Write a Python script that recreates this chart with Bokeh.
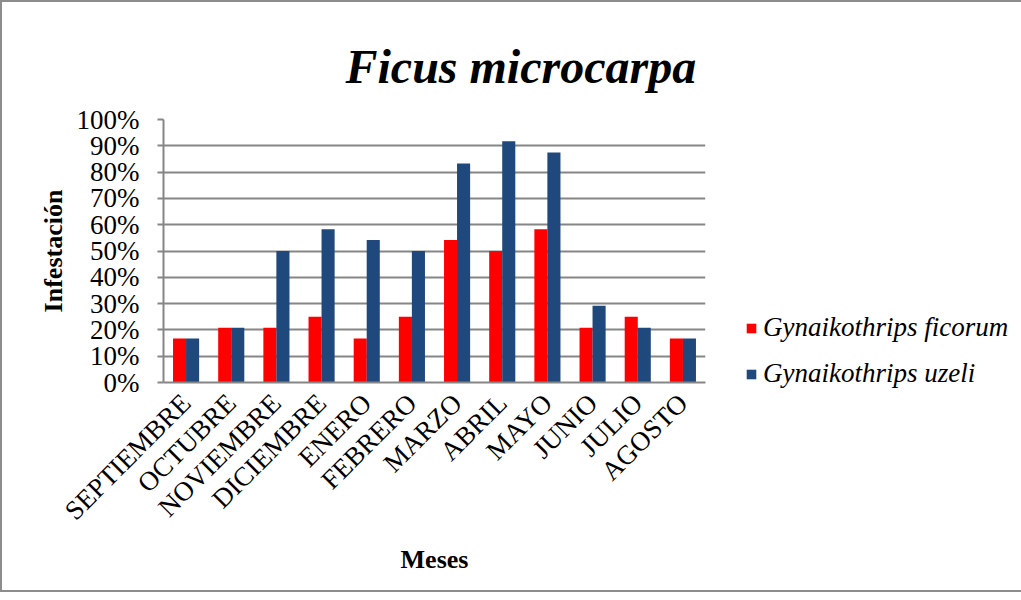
import math
from bokeh.plotting import figure
from bokeh.models import ColumnDataSource, Legend, LegendItem, NumeralTickFormatter, FixedTicker
from bokeh.transform import dodge
from bokeh.embed import file_html
from bokeh.resources import INLINE

meses = ["SEPTIEMBRE", "OCTUBRE", "NOVIEMBRE", "DICIEMBRE", "ENERO", "FEBRERO",
         "MARZO", "ABRIL", "MAYO", "JUNIO", "JULIO", "AGOSTO"]
ficorum = [0.167, 0.208, 0.208, 0.25, 0.167, 0.25, 0.542, 0.50, 0.583, 0.208, 0.25, 0.167]
uzeli = [0.167, 0.208, 0.50, 0.583, 0.542, 0.50, 0.833, 0.917, 0.875, 0.292, 0.208, 0.167]
y_ticks = [0, 0.1, 0.2, 0.3, 0.4, 0.5, 0.6, 0.7, 0.8, 0.9, 1.0]

src = ColumnDataSource(dict(m=meses, f=ficorum, u=uzeli))

FONT = "Liberation Serif"
GRAY = "#868686"

p = figure(x_range=meses, y_range=(0, 1), frame_width=542, frame_height=263,
           output_backend="svg", toolbar_location=None,
           min_border_left=161, min_border_right=0, min_border_top=117, min_border_bottom=208)
p.styles = {"border": "2px solid #8c8c8c"}

r1 = p.vbar(x=dodge("m", -0.144, range=p.x_range), top="f", width=0.29, source=src,
            fill_color="#FF0000", line_color=None)
r2 = p.vbar(x=dodge("m", 0.144, range=p.x_range), top="u", width=0.29, source=src,
            fill_color="#1F497D", line_color=None)

p.title.text = "Ficus microcarpa"
p.title.text_font = FONT
p.title.text_font_size = "48px"
p.title.text_font_style = "bold italic"
p.title.text_color = "black"
p.title.align = "left"
p.title.offset = 182
p.title.standoff = 53

p.outline_line_color = None
p.xgrid.grid_line_color = None
p.ygrid.grid_line_color = GRAY
p.ygrid.grid_line_width = 2

p.yaxis.ticker = FixedTicker(ticks=y_ticks)
p.yaxis.formatter = NumeralTickFormatter(format="0%")
p.yaxis.axis_line_color = GRAY
p.yaxis.axis_line_width = 2
p.yaxis.major_tick_line_color = GRAY
p.yaxis.major_tick_line_width = 2
p.yaxis.major_tick_out = 6
p.yaxis.major_tick_in = 0
p.yaxis.minor_tick_line_color = None
p.yaxis.major_label_standoff = 18
p.yaxis.axis_label = "Infestación"
p.yaxis.axis_label_standoff = 6

p.xaxis.axis_line_color = GRAY
p.xaxis.axis_line_width = 2
p.xaxis.major_tick_line_color = None
p.xaxis.major_label_orientation = math.pi / 4
p.xaxis.major_label_standoff = 10
p.xaxis.axis_label = "Meses"
p.xaxis.axis_label_standoff = 6

for ax in (p.xaxis[0], p.yaxis[0]):
    ax.major_label_text_font = FONT
    ax.major_label_text_font_size = "27px"
    ax.major_label_text_color = "black"
    ax.axis_label_text_font = FONT
    ax.axis_label_text_font_size = "26px"
    ax.axis_label_text_font_style = "bold"
    ax.axis_label_text_color = "black"

legend = Legend(items=[LegendItem(label="Gynaikothrips ficorum", renderers=[r1]),
                       LegendItem(label="Gynaikothrips uzeli", renderers=[r2])],
                location=(40, -7), orientation="vertical")
legend.label_text_font = FONT
legend.label_text_font_size = "27px"
legend.label_text_font_style = "italic"
legend.label_text_color = "black"
legend.glyph_width = 12
legend.glyph_height = 12
legend.label_standoff = 6
legend.spacing = 15
legend.padding = 0
legend.margin = 0
legend.border_line_color = None
legend.background_fill_alpha = 0
p.add_layout(legend, "right")

open("out.html", "w").write(file_html(p, INLINE))
